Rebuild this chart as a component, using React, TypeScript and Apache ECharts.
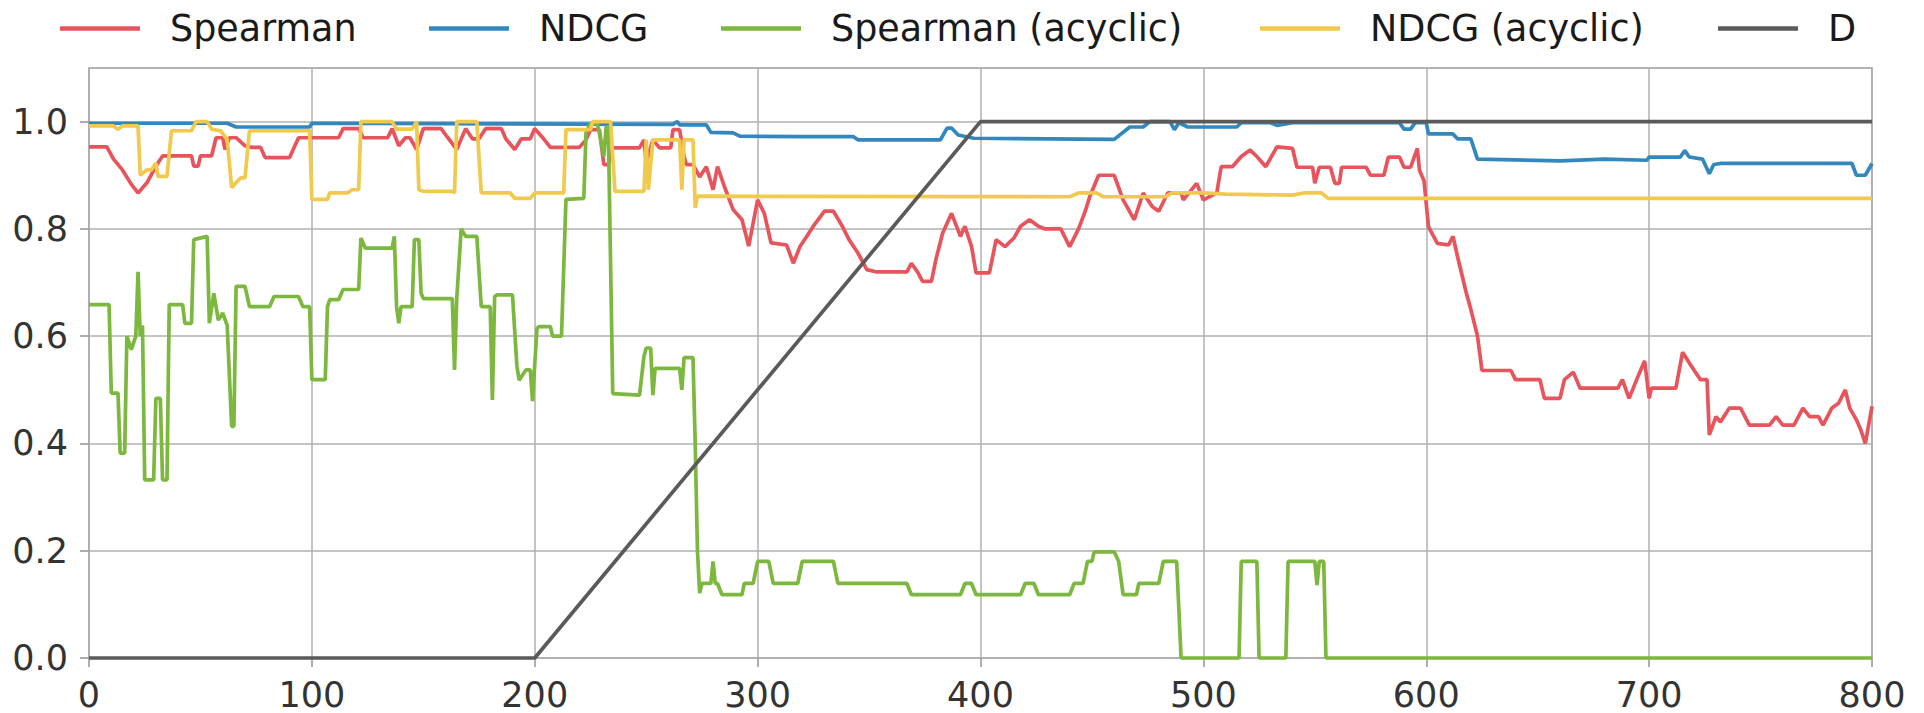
import React, { useEffect, useRef } from "react";
import * as echarts from "echarts";

const seriesNames = ["Spearman", "NDCG", "Spearman (acyclic)", "NDCG (acyclic)", "D"];
const seriesColors = ["#e8545c", "#3288bd", "#7cb83e", "#f0c94d", "#5a5a5a"];
const xTicks = [0, 100, 200, 300, 400, 500, 600, 700, 800];
const yTicks = [0, 0.2, 0.4, 0.6, 0.8, 1.0];

const spearman: number[][] = [
  [0,0.953],[8,0.953],[11,0.93],[15,0.91],[19,0.883],[22,0.867],[26,0.886],[30,0.917],[33,0.936],[46,0.936],[47,0.917],[49,0.917],[50,0.936],[55,0.936],[57,0.97],[60,0.97],[61,0.948],[63,0.97],[66,0.97],[70,0.955],[73,0.952],[77,0.952],[79,0.933],[90,0.933],[94,0.97],[112,0.97],[114,0.987],[121,0.987],[123,0.97],[134,0.97],[136,0.987],[139,0.955],[142,0.97],[144,0.97],[147,0.948],[150,0.987],[158,0.987],[161,0.97],[165,0.948],[169,0.987],[172,0.968],[175,0.968],[178,0.987],[185,0.987],[187,0.968],[191,0.948],[194,0.968],[198,0.968],[200,0.987],[204,0.968],[207,0.952],[220,0.952],[223,0.966],[225,0.985],[229,0.985],[231,0.92],[233,0.92],[235,0.951],[247,0.951],[249,0.966],[250,0.923],[253,0.966],[256,0.951],[261,0.951],[262,0.985],[265,0.985],[267,0.935],[268,0.92],[271,0.92],[274,0.897],[277,0.916],[280,0.873],[282,0.916],[285,0.88],[289,0.836],[293,0.817],[296,0.768],[298,0.811],[300,0.854],[303,0.829],[306,0.774],[313,0.77],[316,0.736],[319,0.767],[322,0.786],[325,0.805],[330,0.833],[334,0.833],[338,0.805],[341,0.78],[345,0.755],[349,0.724],[353,0.72],[367,0.72],[369,0.736],[372,0.718],[374,0.702],[378,0.702],[380,0.743],[383,0.792],[387,0.829],[391,0.786],[393,0.805],[396,0.767],[398,0.718],[404,0.718],[407,0.78],[411,0.767],[415,0.783],[418,0.805],[422,0.817],[426,0.805],[429,0.8],[436,0.8],[440,0.767],[444,0.8],[447,0.833],[449,0.86],[453,0.9],[460,0.9],[464,0.854],[469,0.817],[473,0.867],[477,0.842],[480,0.833],[484,0.867],[490,0.867],[491,0.854],[497,0.885],[500,0.854],[506,0.867],[508,0.916],[513,0.916],[517,0.935],[521,0.947],[524,0.935],[528,0.916],[533,0.953],[540,0.95],[542,0.915],[549,0.915],[550,0.885],[552,0.915],[557,0.915],[559,0.885],[561,0.885],[562,0.915],[573,0.915],[575,0.9],[581,0.9],[583,0.934],[588,0.934],[590,0.915],[593,0.915],[596,0.95],[597,0.909],[599,0.89],[601,0.804],[605,0.773],[610,0.77],[612,0.786],[614,0.749],[618,0.68],[620,0.65],[623,0.6],[625,0.536],[638,0.536],[640,0.519],[651,0.519],[653,0.484],[660,0.484],[662,0.519],[666,0.533],[669,0.503],[686,0.503],[688,0.519],[691,0.484],[695,0.525],[698,0.554],[700,0.484],[701,0.503],[712,0.503],[715,0.57],[719,0.544],[723,0.519],[726,0.519],[727,0.416],[730,0.45],[732,0.44],[736,0.466],[741,0.466],[745,0.434],[754,0.434],[757,0.45],[760,0.434],[765,0.434],[769,0.466],[772,0.45],[776,0.45],[778,0.434],[782,0.466],[785,0.475],[788,0.5],[790,0.466],[793,0.444],[795,0.425],[797,0.4],[800,0.469]
];

const ndcg: number[][] = [
  [0,0.997],[62,0.997],[66,0.99],[99,0.99],[100,0.997],[262,0.995],[264,1.0],[265,0.994],[277,0.994],[279,0.98],[289,0.979],[292,0.973],[319,0.972],[343,0.972],[345,0.966],[382,0.966],[385,0.988],[387,0.988],[390,0.975],[397,0.969],[460,0.967],[467,0.99],[473,0.99],[476,1.0],[485,1.0],[487,0.985],[489,0.998],[493,0.99],[515,0.99],[517,0.998],[530,0.998],[533,0.993],[540,0.998],[588,0.998],[590,0.986],[593,0.986],[595,0.998],[600,0.998],[601,0.977],[612,0.977],[614,0.968],[620,0.968],[623,0.93],[660,0.927],[680,0.93],[699,0.928],[700,0.934],[714,0.934],[716,0.946],[718,0.934],[724,0.93],[727,0.903],[729,0.92],[732,0.922],[791,0.922],[793,0.9],[797,0.9],[800,0.922]
];

const spearmanAcyclic: number[][] = [
  [0,0.659],[9,0.659],[10,0.494],[13,0.494],[14,0.382],[16,0.382],[17,0.6],[19,0.575],[21,0.6],[22,0.72],[23,0.6],[24,0.62],[25,0.332],[29,0.332],[30,0.484],[32,0.484],[33,0.332],[35,0.332],[36,0.659],[42,0.659],[43,0.624],[46,0.624],[47,0.78],[53,0.786],[54,0.624],[56,0.68],[58,0.63],[60,0.643],[62,0.62],[64,0.432],[65,0.432],[66,0.693],[70,0.693],[72,0.655],[81,0.655],[83,0.674],[94,0.674],[96,0.655],[99,0.655],[100,0.519],[106,0.519],[107,0.655],[108,0.668],[112,0.668],[114,0.687],[121,0.687],[122,0.783],[124,0.764],[136,0.764],[137,0.786],[138,0.655],[139,0.624],[140,0.655],[145,0.655],[146,0.78],[148,0.78],[149,0.68],[150,0.67],[163,0.67],[164,0.537],[165,0.67],[167,0.8],[169,0.786],[174,0.786],[176,0.655],[180,0.655],[181,0.481],[182,0.674],[183,0.677],[190,0.677],[192,0.544],[193,0.518],[196,0.537],[198,0.537],[199,0.479],[201,0.615],[202,0.618],[207,0.618],[208,0.6],[212,0.6],[214,0.855],[222,0.857],[223,0.979],[225,0.997],[228,0.997],[229,0.979],[231,0.935],[232,0.99],[233,0.99],[235,0.493],[247,0.49],[249,0.562],[250,0.578],[252,0.578],[253,0.49],[254,0.54],[265,0.54],[266,0.5],[267,0.56],[271,0.56],[272,0.4],[273,0.2],[274,0.121],[275,0.139],[279,0.139],[280,0.18],[281,0.139],[282,0.139],[284,0.118],[293,0.118],[294,0.139],[298,0.139],[300,0.18],[305,0.18],[307,0.139],[318,0.139],[320,0.18],[334,0.18],[336,0.139],[367,0.139],[369,0.118],[391,0.118],[393,0.139],[396,0.139],[398,0.118],[418,0.118],[420,0.139],[424,0.139],[426,0.118],[440,0.118],[442,0.139],[446,0.139],[448,0.18],[450,0.18],[451,0.198],[460,0.198],[462,0.18],[464,0.118],[470,0.118],[471,0.139],[480,0.139],[482,0.18],[488,0.18],[490,0],[516,0],[517,0.18],[524,0.18],[525,0],[537,0],[538,0.18],[550,0.18],[551,0.136],[552,0.18],[554,0.18],[555,0],[800,0]
];

const ndcgAcyclic: number[][] = [
  [0,0.992],[11,0.992],[13,0.986],[15,0.992],[22,0.992],[23,0.9],[26,0.91],[28,0.91],[30,0.923],[31,0.898],[35,0.898],[37,0.983],[46,0.983],[48,1.0],[53,1.0],[55,0.986],[59,0.983],[62,0.967],[64,0.877],[68,0.895],[70,0.895],[72,0.983],[99,0.983],[100,0.855],[107,0.855],[108,0.867],[116,0.867],[118,0.873],[121,0.873],[122,1.0],[136,1.0],[138,0.986],[145,0.986],[147,1.0],[148,0.873],[150,0.87],[163,0.87],[164,0.867],[165,1.0],[174,1.0],[176,0.867],[189,0.867],[191,0.857],[198,0.857],[200,0.867],[213,0.867],[214,0.985],[225,0.985],[226,1.0],[234,1.0],[236,0.87],[249,0.87],[250,0.966],[251,0.873],[253,0.966],[265,0.966],[266,0.873],[267,0.966],[271,0.966],[272,0.839],[273,0.861],[440,0.86],[444,0.867],[452,0.867],[455,0.86],[483,0.86],[486,0.867],[500,0.867],[510,0.865],[540,0.863],[545,0.867],[553,0.867],[556,0.857],[800,0.857]
];

const dLine: number[][] = [[0,0],[200,0],[400,1],[800,1]];

const seriesData = [spearman, ndcg, spearmanAcyclic, ndcgAcyclic, dLine];
const legendLefts = [55, 424, 716, 1255, 1713];

const FONT = "DejaVu Sans";

export default function App() {
  const ref = useRef<HTMLDivElement>(null);
  useEffect(() => {
    if (!ref.current) return;
    const chart = echarts.init(ref.current, undefined, { renderer: "svg" });
    const option: any = {
      animation: false,
      backgroundColor: "#ffffff",
      textStyle: { fontFamily: FONT },
      legend: seriesNames.map((name, i) => ({
        show: true,
        selectedMode: false,
        left: legendLefts[i],
        top: 5,
        data: [{ name, icon: "rect" }],
        itemWidth: 80,
        itemHeight: 4.5,
        textStyle: { fontFamily: FONT, fontSize: 36.5, color: "#1a1a1a", padding: [0, 0, 0, 25] },
      })),
      grid: { left: 89, right: 52, top: 68, bottom: 55, show: true, borderColor: "#9a9a9a", borderWidth: 1.6, backgroundColor: "transparent" },
      xAxis: {
        type: "value",
        min: 0,
        max: 800,
        interval: 100,
        axisLine: { show: false },
        axisTick: { show: true, length: 9, lineStyle: { color: "#9a9a9a", width: 1.6 } },
        axisLabel: { fontFamily: FONT, fontSize: 35, color: "#333333", margin: 19, formatter: (v: number) => (xTicks.includes(v) ? String(v) : "") },
        splitLine: { show: true, lineStyle: { color: "#b0b0b0", width: 1.5 } },
      },
      yAxis: {
        type: "value",
        min: 0,
        max: 1.1,
        interval: 0.2,
        axisLine: { show: false },
        axisTick: { show: true, length: 9, lineStyle: { color: "#9a9a9a", width: 1.6 }, customValues: yTicks },
        axisLabel: {
          fontFamily: FONT,
          fontSize: 35,
          color: "#333333",
          margin: 21,
          customValues: yTicks,
          formatter: (v: number) => v.toFixed(1),
        },
        splitLine: { show: true, lineStyle: { color: "#b0b0b0", width: 1.5 } },
      },
      series: seriesNames.map((name, i) => ({
        name,
        type: "line",
        data: seriesData[i],
        showSymbol: false,
        symbol: "none",
        lineStyle: { color: seriesColors[i], width: 3.7 },
        itemStyle: { color: seriesColors[i] },
        clip: false,
      })),
    };
    chart.setOption(option);
    return () => chart.dispose();
  }, []);
  return <div ref={ref} style={{ position: "fixed", left: 0, top: 0, width: 1924, height: 713 }} />;
}
